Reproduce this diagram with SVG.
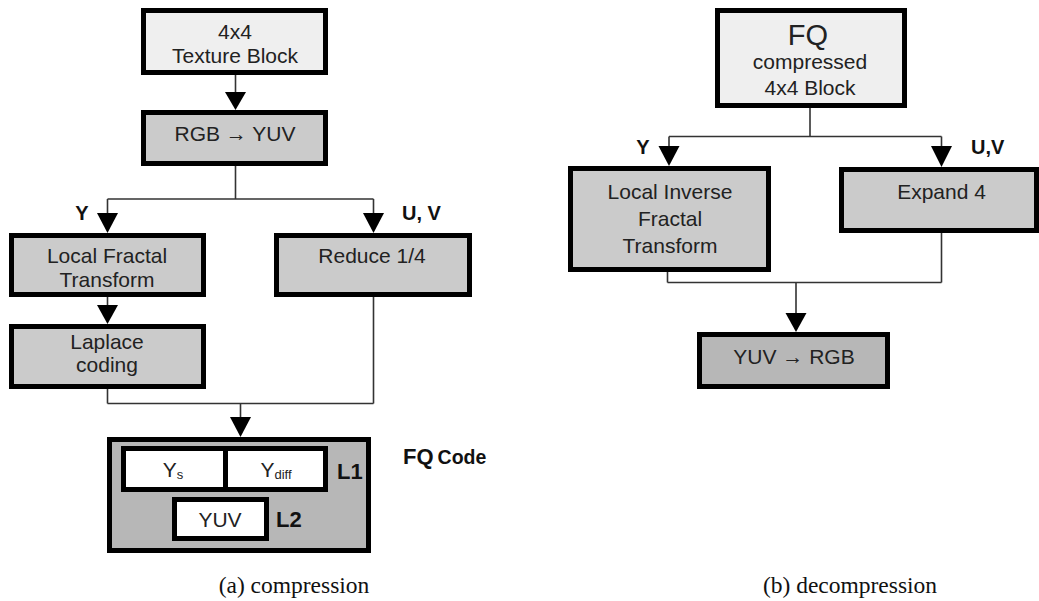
<svg xmlns="http://www.w3.org/2000/svg" width="1039" height="601" viewBox="0 0 1039 601">
<style>
.n{stroke:#000;stroke-width:5}
.l1{fill:#efefef}
.l2{fill:#cbcbcb}
.l3{fill:#b7b7b7}
.w{fill:#fff}
.t{font-family:"Liberation Sans",Arial,sans-serif;font-size:21px;fill:#222;text-anchor:middle}
.b{font-family:"Liberation Sans",Arial,sans-serif;font-weight:bold;fill:#111}
.cap{font-family:"Liberation Serif","Times New Roman",serif;font-size:23.5px;fill:#111;text-anchor:middle}
.c{fill:none;stroke:#333;stroke-width:1.6}
.ah{fill:#000}
</style>
<rect width="1039" height="601" fill="#fff"/>
<g id="connectors">
<path class="c" d="M235.5 75V93"/>
<polygon class="ah" points="225,92 246,92 235.5,110"/>
<path class="c" d="M235.5 166V199M107.5 199H373.5M107.5 199V214M373.5 199V214"/>
<polygon class="ah" points="97,213 118,213 107.5,233"/>
<polygon class="ah" points="363,213 384,213 373.5,233"/>
<path class="c" d="M107.5 297V306"/>
<polygon class="ah" points="97,305 118,305 107.5,324"/>
<path class="c" d="M107.5 389V403.5M373.5 297V403.5M107.5 403.5H373.5M240.5 403.5V418"/>
<polygon class="ah" points="230,417 251,417 240.5,437"/>
<path class="c" d="M810 108V136.5M669 136.5H941.5M669 136.5V147M941.5 136.5V147"/>
<polygon class="ah" points="658.5,146 679.5,146 669,166"/>
<polygon class="ah" points="931,146 952,146 941.5,167"/>
<path class="c" d="M667.5 272V282.5M941.5 233V282.5M667.5 282.5H941.5M796 282.5V314"/>
<polygon class="ah" points="785.5,313 806.5,313 796,332"/>
</g>
<g id="texture-block">
<rect class="n l1" x="143.5" y="10.5" width="182" height="62"/>
<text class="t" x="235" y="39">4x4</text>
<text class="t" x="235" y="63">Texture Block</text>
</g>
<g id="rgb-yuv">
<rect class="n l2" x="143.5" y="112.5" width="182" height="51"/>
<text class="t" x="235" y="141">RGB → YUV</text>
</g>
<g id="label-y-a"><text class="b" x="82" y="220" font-size="20" text-anchor="middle">Y</text></g>
<g id="label-uv-a"><text class="b" x="402" y="220" font-size="20">U, V</text></g>
<g id="local-fractal">
<rect class="n l2" x="11.5" y="235.5" width="192" height="59"/>
<text class="t" x="107" y="263">Local Fractal</text>
<text class="t" x="107" y="287">Transform</text>
</g>
<g id="reduce">
<rect class="n l2" x="276.5" y="235.5" width="193" height="59"/>
<text class="t" x="372" y="263">Reduce 1/4</text>
</g>
<g id="laplace">
<rect class="n l2" x="11.5" y="326.5" width="192" height="60"/>
<text class="t" x="107" y="349">Laplace</text>
<text class="t" x="107" y="372">coding</text>
</g>
<g id="fq-code">
<rect class="n l3" x="109.5" y="439.5" width="259" height="111"/>
<rect class="n w" x="123.5" y="448.5" width="202" height="41"/>
<line class="n" x1="225.5" y1="446" x2="225.5" y2="492"/>
<text class="t" x="173" y="477">Y<tspan font-size="13" dy="2">s</tspan></text>
<text class="t" x="276" y="477">Y<tspan font-size="13" dy="2">diff</tspan></text>
<text class="b" x="337" y="479" font-size="22">L1</text>
<rect class="n w" x="174.5" y="499.5" width="92" height="39"/>
<text class="t" x="220" y="527">YUV</text>
<text class="b" x="276" y="527" font-size="22">L2</text>
</g>
<g id="fq-code-label">
<text class="b" x="403" y="464"><tspan font-size="22">FQ</tspan><tspan font-size="19.5" dx="4">Code</tspan></text>
</g>
<g id="fq-block">
<rect class="n l1" x="717.5" y="10.5" width="187" height="95"/>
<text class="t" x="808" y="45" style="font-size:29px">FQ</text>
<text class="t" x="810" y="69">compressed</text>
<text class="t" x="810" y="95">4x4 Block</text>
</g>
<g id="label-y-b"><text class="b" x="643" y="154" font-size="20" text-anchor="middle">Y</text></g>
<g id="label-uv-b"><text class="b" x="971" y="154" font-size="20">U,V</text></g>
<g id="local-inverse">
<rect class="n l2" x="570.5" y="168.5" width="198" height="101"/>
<text class="t" x="670" y="199">Local Inverse</text>
<text class="t" x="670" y="226">Fractal</text>
<text class="t" x="670" y="253">Transform</text>
</g>
<g id="expand">
<rect class="n l2" x="841.5" y="169.5" width="195" height="61"/>
<text class="t" x="941.5" y="199">Expand 4</text>
</g>
<g id="yuv-rgb">
<rect class="n l3" x="699.5" y="334.5" width="188" height="52"/>
<text class="t" x="794" y="364">YUV → RGB</text>
</g>
<g id="captions">
<text class="cap" x="294" y="593">(a) compression</text>
<text class="cap" x="850" y="593">(b) decompression</text>
</g>
</svg>
